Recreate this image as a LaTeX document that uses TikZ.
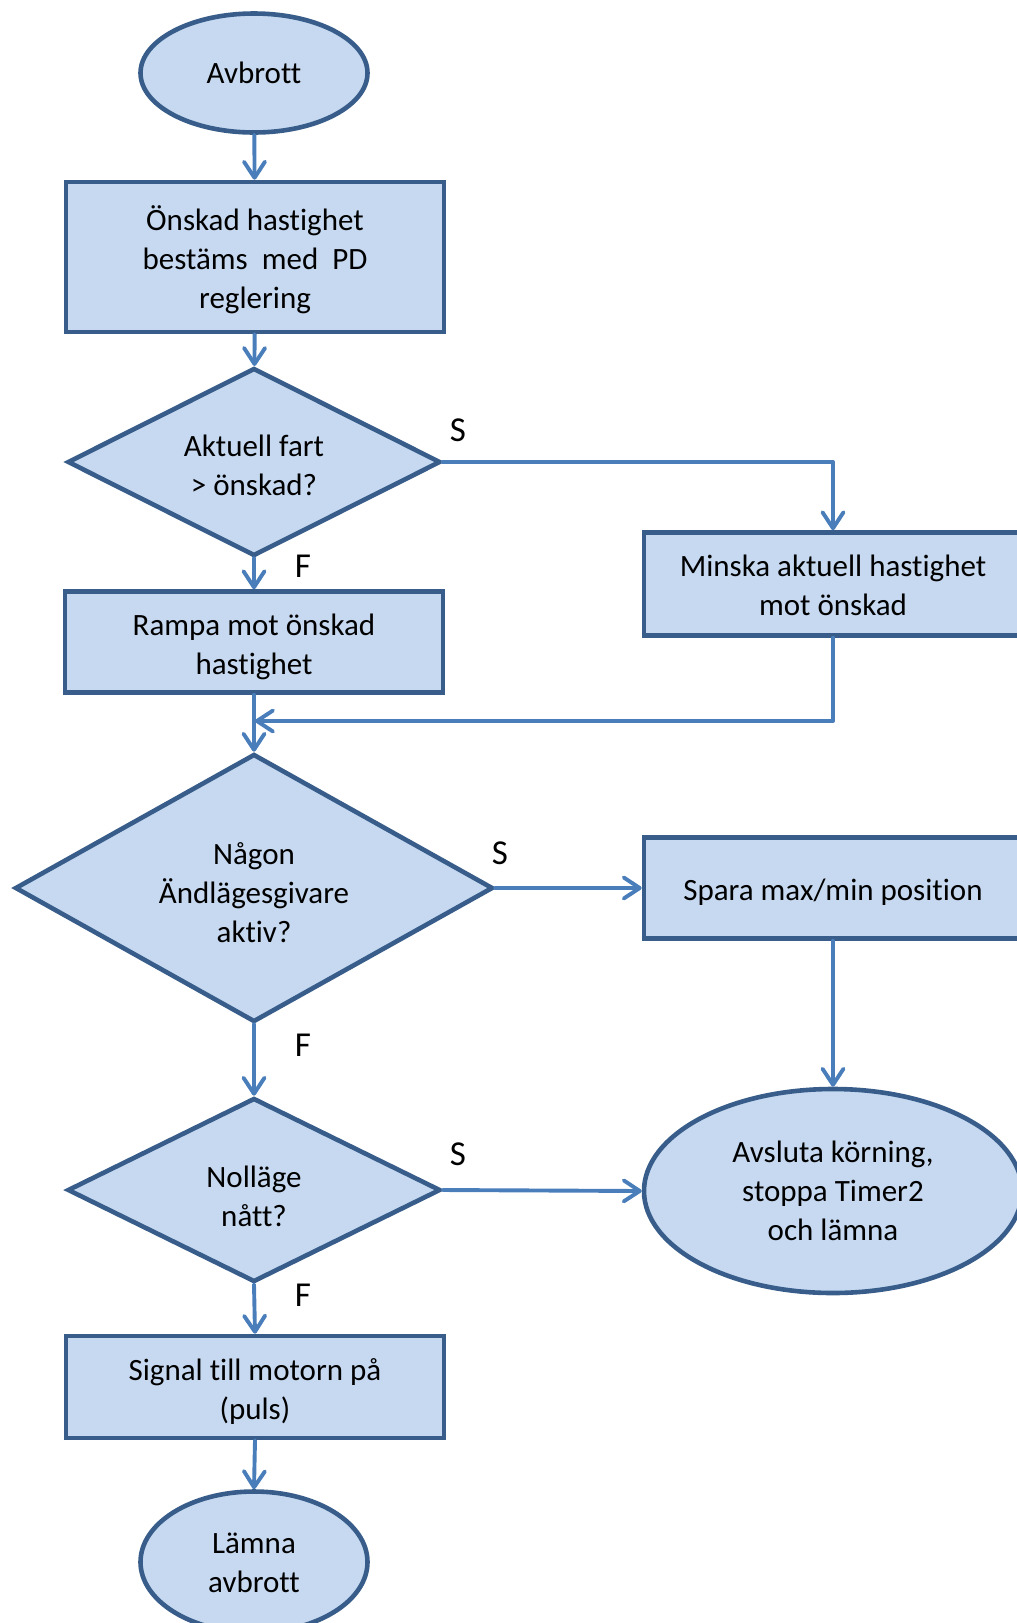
\documentclass[tikz,border=0pt]{standalone}
\usepackage{fontspec}
\setmainfont{Carlito}[Ligatures=NoCommon]
\usetikzlibrary{shapes.geometric,arrows.meta}

\definecolor{fillc}{RGB}{198,217,240}
\definecolor{bordc}{RGB}{56,93,138}
\definecolor{arrc}{RGB}{74,126,187}

% centred text block, lowered by the optional amount without changing its size
\newcommand{\ctext}[2][3pt]{\raisebox{-#1}[\height][\depth]{\begin{tabular}{@{}c@{}}#2\end{tabular}}}

\tikzset{
  blk/.style={draw=bordc, fill=fillc, line width=4.6pt, inner sep=0pt,
    font=\fontsize{31}{39}\selectfont},
  procbox/.style={blk, rectangle, minimum width=378pt},
  term/.style={blk, ellipse},
  decision/.style={blk, diamond},
  flow/.style={draw=arrc, line width=3.9pt, line cap=round, line join=round,
    -{Straight Barb[length=16pt, width=21pt, line cap=round, line join=round]}},
  ans/.style={font=\fontsize{35}{40}\selectfont, inner sep=0pt}
}

\begin{document}
\begin{tikzpicture}[x=1pt, y=-1pt]
  \clip (0,0) rectangle (1017,1623);
  \useasboundingbox (0,0) rectangle (1017,1623);

  % left column
  \node[term, minimum width=227pt, minimum height=119pt] (start) at (254,73) {\ctext{Avbrott}};
  \node[procbox, minimum height=150pt] (desired) at (255,257)
    {\ctext[4.5pt]{Önskad hastighet\\bestäms\ \ med\ \ PD\\reglering}};
  \node[decision, minimum width=373pt, minimum height=188pt, aspect=1.98] (fast) at (254,462)
    {\ctext[6.5pt]{Aktuell fart\\> önskad?}};
  \node[procbox, minimum height=101pt] (ramp) at (254,642)
    {\ctext[5pt]{Rampa mot önskad\\hastighet}};
  \node[decision, minimum width=478pt, minimum height=268pt, aspect=1.78] (limit) at (254,888)
    {\ctext[7.5pt]{Någon\\Ändlägesgivare\\aktiv?}};
  \node[decision, minimum width=373pt, minimum height=184pt, aspect=2.03] (zero) at (254,1190)
    {\ctext[9pt]{Nolläge\\nått?}};
  \node[procbox, minimum height=102pt] (pulse) at (255,1387)
    {\ctext[5pt]{Signal till motorn på\\(puls)}};
  \node[term, minimum width=227pt, minimum height=141pt] (leave) at (254,1562)
    {\ctext{Lämna\\avbrott}};

  % right column
  \node[procbox, minimum height=103pt] (slow) at (833,584)
    {\ctext[4.5pt]{Minska aktuell hastighet\\mot önskad}};
  \node[procbox, minimum height=101pt] (save) at (833,888)
    {\ctext[4.5pt]{Spara max/min position}};
  \node[term, minimum width=378pt, minimum height=204pt] (stop) at (833,1191)
    {\ctext[2.5pt]{Avsluta körning,\\stoppa Timer2\\och lämna}};

  % branch labels
  \node[ans] (s1) at (458,430) {S};
  \node[ans] (f1) at (303,566) {F};
  \node[ans] (s2) at (500,853) {S};
  \node[ans] (f2) at (303,1045) {F};
  \node[ans] (s3) at (458,1154) {S};
  \node[ans] (f3) at (303,1295) {F};

  \coordinate (join) at (254,721);
  \coordinate (joinR) at (833,721);

  % connectors
  \draw[flow] (start) -- (desired);
  \draw[flow] (desired) -- (fast);
  \draw[flow] (fast.east) -| (slow.north);
  \draw[flow] (fast.south) -- (ramp.north);
  \draw[flow] (ramp.south) -- (limit.north);
  \draw[flow] (slow.south) -- (joinR) -- ([xshift=1pt]join);
  \draw[flow] (limit.east) -- (save.west);
  \draw[flow] (save.south) -- (stop.north);
  \draw[flow] (limit.south) -- (zero.north);
  \draw[flow] (zero.east) -- (stop.west);
  \draw[flow] (zero.south) -- (pulse.north);
  \draw[flow] (pulse.south) -- (leave.north);
\end{tikzpicture}
\end{document}
